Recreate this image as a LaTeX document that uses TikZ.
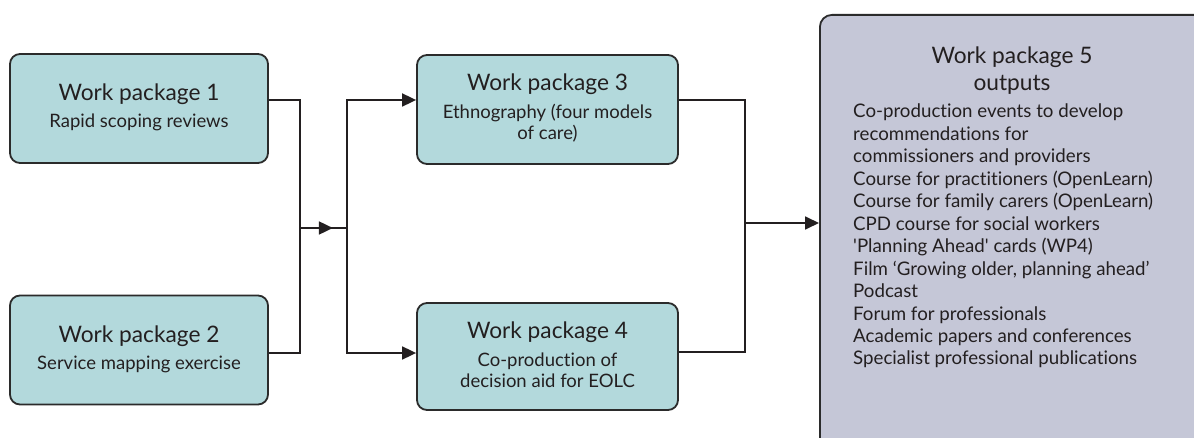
\documentclass[tikz,border=0pt]{standalone}
\usepackage{fontspec}
\setmainfont{Lato}[Ligatures=NoCommon]
\usetikzlibrary{arrows.meta,calc}
\definecolor{tealfill}{HTML}{B3D9DC}
\definecolor{lavfill}{HTML}{C5C7D7}
\definecolor{edge}{HTML}{2B2B2B}
\definecolor{ink}{HTML}{231F20}
\tikzset{
  wpbox/.style={draw=edge, line width=1.8pt, fill=tealfill, rounded corners=10pt,
    minimum width=258pt, minimum height=109pt, align=center, text=ink, inner sep=0pt},
  conn/.style={draw=ink, line width=1.8pt},
  arr/.style={conn, -{Triangle[length=14pt,width=13pt]}},
  ttl/.style={font=\fontsize{22.7}{27}\selectfont},
  sub/.style={font=\fontsize{18.5}{21}\selectfont},
}
\begin{document}
\begin{tikzpicture}[x=1pt,y=-1pt]
\useasboundingbox (0,0) rectangle (1194,438);
\node[wpbox] (b1) at (139,108.5) {};
\node[ttl,text=ink] (t1) at (139,94) {Work package 1};
\node[sub,text=ink] (s1) at (139,122) {Rapid scoping reviews};
\node[wpbox] (b2) at (139,350) {};
\node[ttl,text=ink] (t2) at (139,336) {Work package 2};
\node[sub,text=ink] (s2) at (139,364) {Service mapping exercise};
\node[wpbox, minimum width=261pt] (b3) at (547.5,109.5) {};
\node[ttl,text=ink] (t3) at (547.5,84) {Work package 3};
\node[sub,text=ink,align=center] (s3) at (547.5,123.5) {Ethnography (four models\\of care)};
\node[wpbox, minimum width=261pt, minimum height=107pt] (b4) at (547.5,356.5) {};
\node[ttl,text=ink] (t4) at (547.5,332) {Work package 4};
\node[sub,text=ink,align=center] (s4) at (547.5,370) {Co-production of\\decision aid for EOLC};
\node[draw=edge, line width=1.8pt, fill=lavfill, rounded corners=12pt,
  minimum width=386pt, minimum height=440pt, anchor=north west, inner sep=0pt] (b5) at (819,14) {};
\node[ttl,text=ink,align=center] (t5) at (1012,71) {Work package 5\\outputs};
\node[text=ink, anchor=north west, align=left, inner sep=0pt,
  font=\fontsize{18.7}{22.45}\selectfont] (l5) at (853,104) {Co-production events to develop\\
recommendations for\\
commissioners and providers\\
Course for practitioners (OpenLearn)\\
Course for family carers (OpenLearn)\\
CPD course for social workers\\
\textquotesingle Planning Ahead\textquotesingle{} cards (WP4)\\
Film ‘Growing older, planning ahead’\\
Podcast\\
Forum for professionals\\
Academic papers and conferences\\
Specialist professional publications};
\coordinate (j1) at (300,228);
\coordinate (j2) at (347,228);
\coordinate (j3) at (745,223);
\draw[conn] (b1.east |- 0,100) -| (j1);
\draw[conn] (b2.east |- 0,353) -| (j1);
\draw[conn] (j1) -- (j2);
\draw[arr] (j1) -- ($(j1)!0.7!(j2)$);
\draw[arr] (j2) |- (b3.west |- 0,100);
\draw[arr] (j2) |- (b4.west |- 0,353);
\draw[conn] (b3.east |- 0,100) -| (j3);
\draw[conn] (b4.east |- 0,352) -| (j3);
\draw[arr] (j3) -- (b5.west |- j3);
\end{tikzpicture}
\end{document}
